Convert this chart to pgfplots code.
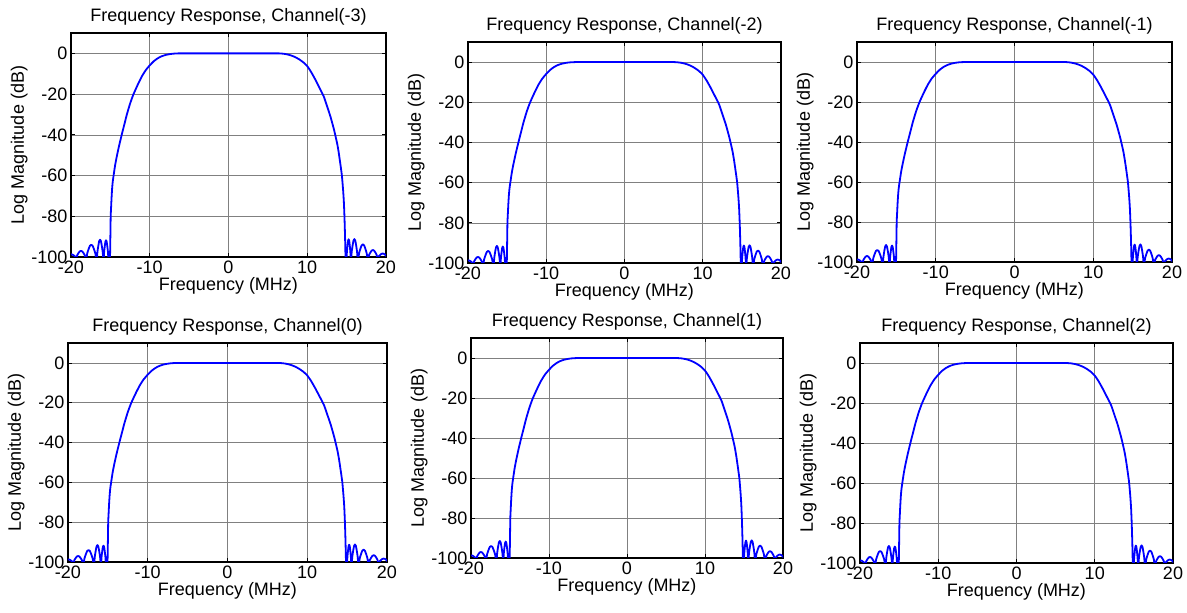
\documentclass[border=0pt]{standalone}
\usepackage{fontspec}
\setmainfont{Liberation Sans}
\usepackage{pgfplots}
\usepackage{pgfplotstable}
\pgfplotsset{compat=1.18}

\pgfplotstableread{
x y
-20.6 -102
-20.451 -99.61
-20.29 -99.155
-20.135 -98.804
-19.98 -98.7
-19.825 -98.804
-19.67 -99.155
-19.509 -99.61
-19.36 -102
-19.209 -99.1
-19.045 -98.05
-18.888 -97.24
-18.73 -97.0
-18.573 -97.24
-18.415 -98.05
-18.249 -99.1
-18.1 -102
-17.938 -98.2
-17.763 -96.1
-17.594 -94.48
-17.425 -94.0
-17.256 -94.48
-17.088 -96.1
-16.912 -98.2
-16.75 -102
-16.644 -97.45
-16.53 -94.48
-16.42 -92.18
-16.31 -91.5
-16.2 -92.18
-16.09 -94.48
-15.976 -97.45
-15.87 -102
-15.793 -97.54
-15.71 -94.67
-15.63 -92.46
-15.55 -91.8
-15.47 -92.46
-15.39 -94.67
-15.307 -97.54
-15.23 -102
-15.06 -102
-15.0 -90
-14.96 -80
-14.9 -75
-14.85 -71
-14.78 -66.5
-14.7 -63
-14.6 -60.2
-14.4 -55
-14.2 -50.9
-13.9 -45.5
-13.56 -40
-13.2 -34.5
-12.92 -30.2
-12.5 -24.7
-12.08 -20.2
-11.5 -15.2
-11.0 -11.3
-10.5 -8.2
-10.0 -5.9
-9.5 -3.9
-9.0 -2.45
-8.5 -1.45
-8.0 -0.8
-7.5 -0.4
-7.0 -0.15
-6.5 -0.04
-6.0 0
0 0
6.0 0
6.5 -0.03
7.0 -0.2
7.5 -0.55
8.0 -1.1
8.5 -1.9
9.0 -3.0
9.5 -4.4
10.0 -6.3
10.5 -9.2
11.0 -12.7
11.5 -16.5
12.1 -21.2
12.5 -25.8
12.95 -31.1
13.4 -37.5
13.8 -44.3
14.0 -48.8
14.2 -54.2
14.4 -60
14.56 -67.5
14.65 -73
14.73 -80.7
14.8 -90
14.86 -100
14.92 -102
14.97 -102
15.038 -97.39
15.113 -94.35
15.184 -92.0
15.255 -91.3
15.326 -92.0
15.398 -94.35
15.472 -97.39
15.54 -102
15.647 -97.36
15.763 -94.28
15.874 -91.9
15.985 -91.2
16.096 -91.9
16.208 -94.28
16.323 -97.36
16.43 -102
16.582 -98.14
16.748 -95.97
16.906 -94.3
17.065 -93.8
17.224 -94.3
17.383 -95.97
17.548 -98.14
17.70 -102
17.852 -98.98
18.018 -97.79
18.176 -96.87
18.335 -96.6
18.494 -96.87
18.653 -97.79
18.818 -98.98
18.97 -102
19.118 -99.49
19.278 -98.9
19.431 -98.44
19.585 -98.3
19.739 -98.44
19.893 -98.9
20.052 -99.49
20.2 -102
}\resp

\pgfplotsset{
  mat/.style={
    scale only axis, anchor=south west,
    xmin=-20, xmax=20, ymin=-100, ymax=10,
    xtick={-20,-10,0,10,20}, xticklabels={-20,-10,0,10,20},
    ytick={-100,-80,-60,-40,-20,0}, yticklabels={-100,-80,-60,-40,-20,0},
    tick align=inside, major tick length=4pt,
    xtick pos=both, ytick pos=both,
    grid=major, grid style={black!50, line width=0.6pt},
    axis line style={black, line width=1.1pt},
    tick style={black, line width=0.8pt},
    font=\fontsize{18}{20}\selectfont,
    xlabel={Frequency (MHz)}, ylabel={Log Magnitude (dB)},
    xlabel style={yshift=3pt}, ylabel style={yshift=-3pt},
    title style={yshift=-2pt},
  },
}
\newcommand{\curve}{\addplot[blue, line width=1.8pt, line join=round, smooth, tension=0.3] table {\resp};}

\begin{document}
\begin{tikzpicture}[x=1pt,y=1pt]
\path[use as bounding box] (0,0) rectangle (1187,613);
\begin{axis}[mat, at={(71pt,356pt)}, width=315pt, height=224pt, title={Frequency Response, Channel(-3)}]
\curve
\end{axis}
\begin{axis}[mat, at={(468pt,350pt)}, width=313pt, height=221pt, title={Frequency Response, Channel(-2)}]
\curve
\end{axis}
\begin{axis}[mat, at={(857pt,351pt)}, width=315pt, height=220pt, title={Frequency Response, Channel(-1)}]
\curve
\end{axis}
\begin{axis}[mat, at={(68pt,51pt)}, width=319pt, height=219pt, title={Frequency Response, Channel(0)}]
\curve
\end{axis}
\begin{axis}[mat, at={(471pt,55pt)}, width=312pt, height=220pt, title={Frequency Response, Channel(1)}]
\curve
\end{axis}
\begin{axis}[mat, at={(860pt,50pt)}, width=313pt, height=220pt, title={Frequency Response, Channel(2)}]
\curve
\end{axis}
\end{tikzpicture}
\end{document}
